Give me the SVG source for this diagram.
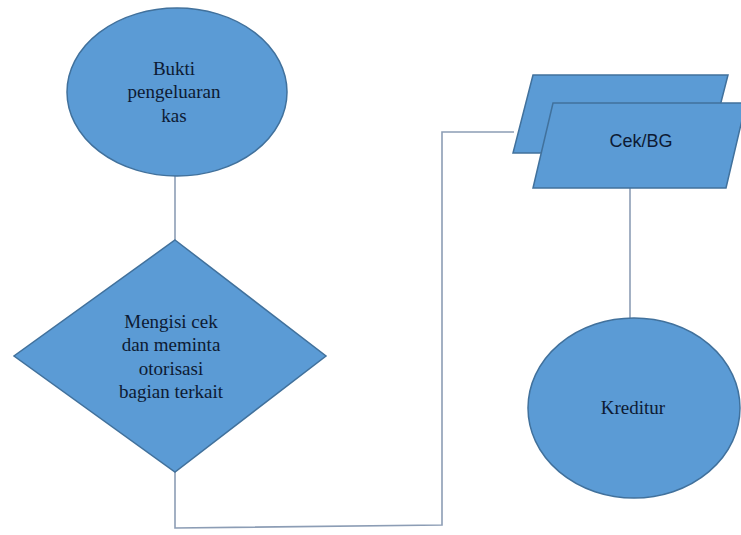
<svg xmlns="http://www.w3.org/2000/svg" width="741" height="535" viewBox="0 0 741 535">
<style>
.shape{fill:#5B9BD5;stroke:#41719C;stroke-width:1.5}
.conn{fill:none;stroke:#8C9DB5;stroke-width:1.6}
.serif{font-family:"Liberation Serif","Times New Roman",serif;font-size:19px;fill:#0d1a33;text-anchor:middle}
.sans{font-family:"Liberation Sans",Arial,sans-serif;font-size:18px;fill:#0d1a33;text-anchor:middle}
</style>
<rect width="741" height="535" fill="#ffffff"/>
<g id="connectors">
<line class="conn" x1="175" y1="176" x2="175" y2="240"/>
<polyline class="conn" points="175,472 175,528 442,525 442,132 514,132"/>
<line class="conn" x1="630" y1="188" x2="630" y2="318"/>
</g>
<g id="node-bukti">
<ellipse class="shape" cx="177" cy="92" rx="110" ry="84"/>
<text class="serif" x="174" y="75">Bukti</text>
<text class="serif" x="174" y="98">pengeluaran</text>
<text class="serif" x="174" y="122">kas</text>
</g>
<g id="node-mengisi">
<polygon class="shape" points="175,240 326,356 175,472 14,356"/>
<text class="serif" x="171" y="328">Mengisi cek</text>
<text class="serif" x="171" y="351">dan meminta</text>
<text class="serif" x="171" y="375">otorisasi</text>
<text class="serif" x="171" y="398">bagian terkait</text>
</g>
<g id="node-cekbg">
<polygon class="shape" points="533,75 728,75 708,153 513,153"/>
<polygon class="shape" points="553,103 746,103 726,188 533,188"/>
<text class="sans" x="641" y="147">Cek/BG</text>
</g>
<g id="node-kreditur">
<ellipse class="shape" cx="634" cy="408" rx="106" ry="90"/>
<text class="serif" x="633" y="414">Kreditur</text>
</g>
</svg>
